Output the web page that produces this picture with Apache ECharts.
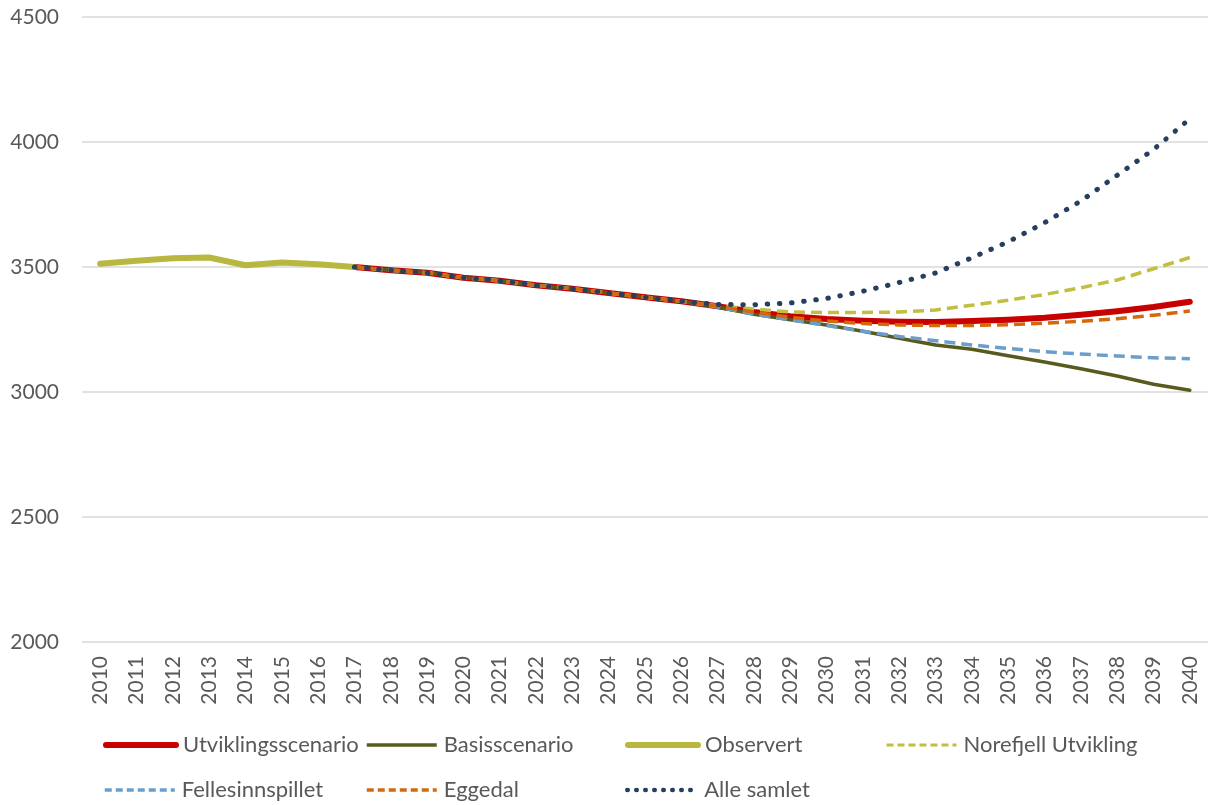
<!DOCTYPE html>
<html>
<head>
<meta charset="utf-8">
<script src="https://cdn.jsdelivr.net/npm/echarts@6/dist/echarts.min.js"></script>
<style>
html,body{margin:0;padding:0;background:#fff;}
#chart{width:1215px;height:805px;}
</style>
</head>
<body>
<div id="chart"></div>
<script>
const years = ['2010','2011','2012','2013','2014','2015','2016','2017','2018','2019','2020','2021','2022','2023','2024','2025','2026','2027','2028','2029','2030','2031','2032','2033','2034','2035','2036','2037','2038','2039','2040'];

const observert = [3513,3525,3535,3538,3507,3518,3511,3500,null,null,null,null,null,null,null,null,null,null,null,null,null,null,null,null,null,null,null,null,null,null,null];

const pre = [null,null,null,null,null,null,null];
const common = [3500,3487,3477,3457,3445,3427,3413,3396,3379,3363];

const utvikling = pre.concat(common, [3343,3320,3303,3292,3285,3281,3280,3284,3289,3297,3309,3323,3340,3361]);
const basis = pre.concat(common, [3340,3311,3289,3268,3243,3215,3188,3171,3145,3120,3093,3064,3031,3007]);
const norefjell = pre.concat(common, [3345,3332,3320,3318,3318,3320,3328,3347,3367,3390,3417,3448,3493,3538]);
const felles = pre.concat(common, [3340,3311,3289,3266,3243,3222,3205,3188,3174,3161,3152,3144,3137,3133]);
const eggedal = pre.concat(common, [3343,3320,3298,3284,3274,3268,3266,3266,3269,3275,3283,3293,3307,3324]);
const alle = pre.concat(common, [3350,3349,3356,3374,3403,3438,3476,3537,3601,3677,3764,3867,3970,4093]);

const yTicks = [2000,2500,3000,3500,4000,4500];

const FONT = 'Lato';
const TXT = '#595959';

function mk(name, data, color, width, type, cap) {
  return {
    name: name, type: 'line', data: data, symbol: 'none', showSymbol: false,
    connectNulls: false, smooth: false,
    lineStyle: {color: color, width: width, type: type, cap: cap || 'butt', join: 'round'},
    itemStyle: {color: color},
    emphasis: {disabled: true}
  };
}

const series = [
  mk('Utviklingsscenario', utvikling, '#C90000', 6, 'solid', 'round'),
  mk('Basisscenario', basis, '#585A1E', 3.5, 'solid', 'round'),
  mk('Observert', observert, '#B9B73F', 6, 'solid', 'round'),
  mk('Norefjell Utvikling', norefjell, '#C2BE40', 3.5, [11,6], 'butt'),
  mk('Fellesinnspillet', felles, '#6A9ECB', 3.5, [11,6], 'butt'),
  mk('Eggedal', eggedal, '#D4690C', 3.5, [11,6], 'butt'),
  mk('Alle samlet', alle, '#263F5E', 5, [0.5,11.7], 'round')
];

const legendPos = [
  ['Utviklingsscenario', 103, 732, 6, 'solid', 'round'],
  ['Basisscenario', 365, 732, 3.5, 'solid', 'butt'],
  ['Observert', 625, 732, 6, 'solid', 'round'],
  ['Norefjell Utvikling', 885, 732, 3, [7,4], 'butt'],
  ['Fellesinnspillet', 103, 777, 3.5, [7,4], 'butt'],
  ['Eggedal', 365, 777, 3.5, [7,4], 'butt'],
  ['Alle samlet', 625, 777, 4.5, [0.5,8.5], 'round']
];

const legends = legendPos.map(function(p){
  return {
    data: [{name: p[0]}], left: p[1], top: p[2], orient: 'horizontal',
    itemWidth: 70, itemHeight: 14, itemGap: 0, padding: 0,
    selectedMode: false,
    itemStyle: {opacity: 0},
    lineStyle: {width: p[3], type: p[4], cap: p[5], opacity: 1},
    textStyle: {fontFamily: FONT, fontSize: 22, color: TXT, lineHeight: 26, padding: [0,0,0,2]}
  };
});

const chart = echarts.init(document.getElementById('chart'), null, {renderer: 'canvas'});
chart.setOption({
  animation: false,
  backgroundColor: '#ffffff',
  grid: {left: 82, right: 7, top: 17, bottom: 163, containLabel: false},
  legend: legends,
  xAxis: {
    type: 'category', data: years, boundaryGap: true,
    axisLine: {show: false}, axisTick: {show: false},
    axisLabel: {rotate: 90, fontFamily: FONT, fontSize: 21, color: TXT, margin: 14, interval: 0}
  },
  yAxis: {
    type: 'value', min: 2000, max: 4500, interval: 500,
    axisLine: {show: false}, axisTick: {show: false},
    axisLabel: {fontFamily: FONT, fontSize: 21, color: TXT, margin: 23,
      formatter: function(v){ return yTicks.indexOf(v) >= 0 ? String(v) : ''; }},
    splitLine: {lineStyle: {color: '#D9D9D9', width: 1.5}}
  },
  series: series
});
</script>
</body>
</html>
